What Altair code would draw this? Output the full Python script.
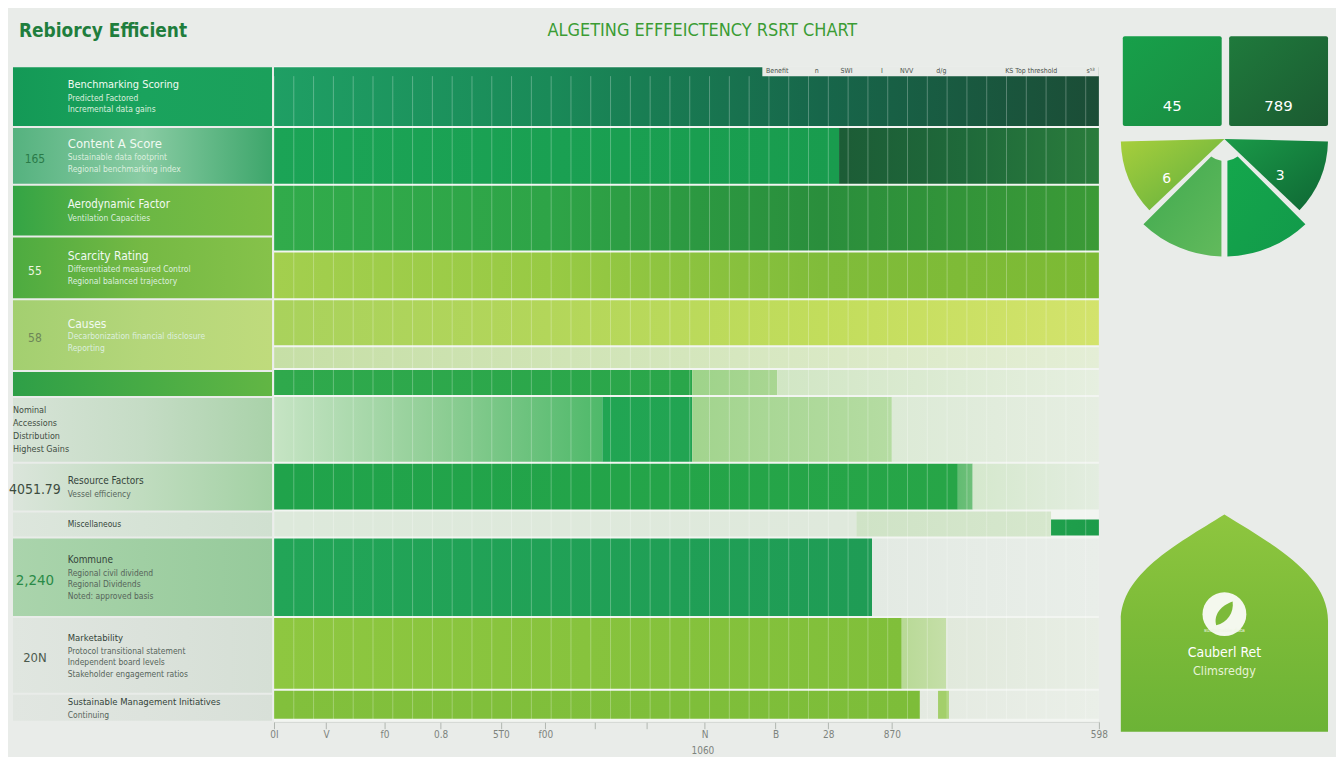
import json
import math
import altair as alt
import pandas as pd

# ======================= DATA =======================
title_left = "Rebiorcy Efficient"
title_main = "ALGETING EFFFEICTENCY RSRT CHART"

# main horizontal bands (thickness of each band, top -> bottom)
bar_row_heights = [61, 58, 67, 48, 47, 23, 27, 67, 48, 27, 80, 73, 30]

# bar segments: band index, start value, end value
seg_row  = [0, 1, 1, 2, 3, 4, 5, 6, 6, 6, 7, 7, 7, 7, 8, 8, 8, 9, 9, 9, 10, 10, 11, 11, 11, 12, 12, 12]
seg_from = [0, 0, 685, 0, 0, 0, 0, 0, 507, 610, 0, 398, 507, 749, 0, 829, 847, 0, 706, 942, 0, 725, 0, 761, 815, 0, 783, 805]
seg_to   = [1000, 685, 1000, 1000, 1000, 1000, 1000, 507, 610, 1000, 398, 507, 749, 1000, 829, 847, 1000, 706, 942, 1000, 725, 1000, 761, 815, 1000, 783, 1000, 818]

# small header strip in the first band
strip_from, strip_to, strip_depth = 592, 1000, 10
strip_labels = ["Benefit", "n", "SWI", "I", "NVV", "d/g", "KS Top threshold", "s⁵³"]
strip_label_at = [610, 658, 694, 737, 767, 809, 918, 990]

# x axis
axis_ticks = [0, 63, 134, 202, 275, 329, 389, 452, 522, 608, 672, 749, 1000]
axis_labels = ["0I", "V", "f0", "0.8", "5T0", "f00", "", "", "N", "B", "28", "870", "598"]
axis_title = "1060"

# left label panel
left_row_heights = [61, 58, 52, 63, 72, 26, 66, 49, 26, 80, 77, 28]
left_numbers = ["", "165", "", "55", "58", "", "", "4051.79", "", "2,240", "20N", ""]
left_titles = ["Benchmarking Scoring", "Content A Score", "Aerodynamic Factor", "Scarcity Rating",
               "Causes", "", "", "Resource Factors", "Miscellaneous", "Kommune",
               "Marketability", "Sustainable Management Initiatives"]
left_subs = [
    ["Predicted Factored", "Incremental data gains"],
    ["Sustainable data footprint", "Regional benchmarking index"],
    ["Ventilation Capacities"],
    ["Differentiated measured Control", "Regional balanced trajectory"],
    ["Decarbonization financial disclosure", "Reporting"],
    [],
    [],
    ["Vessel efficiency"],
    [],
    ["Regional civil dividend", "Regional Dividends", "Noted: approved basis"],
    ["Protocol transitional statement", "Independent board levels", "Stakeholder engagement ratios"],
    ["Continuing"],
]
left_notes_row = 6
left_notes = ["Nominal", "Accessions", "Distribution", "Highest Gains"]

# right emblem
tile_keys = ["L", "R"]
tile_values = ["45", "789"]
wedge_values = ["6", "3"]
arch_lines = ["Cauberl Ret", "Climsredgy"]
arch_small = "sustainable        data"

# ======================= STYLE =======================
FONT = "Liberation Sans Narrow, DejaVu Sans Condensed, Liberation Sans, sans-serif"

SEG_COLORS = [
    ["#1f9f64", "#1a8a58", "#17664a", "#1b4d36"],
    ["#1ba456", "#199c4e"],
    ["#1c5c36", "#1f6a3a", "#2a7c3c"],
    ["#31ab4b", "#2ea447", "#2a8e3c", "#3b9a36"],
    ["#a3cf4e", "#98ca44", "#80bc3a", "#7cba34"],
    ["#a9d25c", "#b3d65a", "#c2dd5c", "#d3e36c"],
    ["#c6dfa6", "#d4e6bc", "#e4eed6"],
    ["#2fa94c", "#2aa64a"],
    ["#9ed38a", "#a9d692"],
    ["#d1e6c4", "#e6efe0"],
    ["#c6e4c4", "#8fce95", "#4fb96a"],
    ["#21a553", "#22a452"],
    ["#a2d48e", "#b5dca2"],
    ["#dcead6", "#e6eee2"],
    ["#20a34b", "#27a547"],
    ["#62bc72", "#6fc07a"],
    ["#d5e8cd", "#e3ede0"],
    ["#dde9db", "#dfe9dc"],
    ["#cfe3c6", "#d6e7cd"],
    ["#1fa04c", "#1d9c4a"],
    ["#22a557", "#1f9c55"],
    ["#e3eae3", "#e9eee9"],
    ["#8ec740", "#80bf3a"],
    ["#b8d996", "#c5dfa8"],
    ["#e1e9dc", "#e8eee5"],
    ["#82c03c", "#7dbd39"],
    ["#e4eae1", "#eaefe8"],
    ["#a3cf6a", "#a3cf6a"],
]
SEG_INSET = {19: (9, 2)}

LEFT_COLORS = [
    ["#149956", "#1aa35d", "#1ba05b"],
    ["#55b27f", "#8acca4", "#3da66b"],
    ["#34a445", "#6bb744", "#7bbd43"],
    ["#4dab40", "#75b944", "#86c24a"],
    ["#a3cf70", "#b4d67a", "#bfdb7c"],
    ["#2e9f47", "#47ab45", "#62b644"],
    ["#d7e3d7", "#c5dcc5", "#a9d2a9"],
    ["#dbe5db", "#c0dcbf", "#a2d1a3"],
    ["#dde6dd", "#d6e3d6", "#d0e0d0"],
    ["#aad4ac", "#a0cfa3", "#96ca9b"],
    ["#e0e6e0", "#dbe2db", "#d5dfd5"],
    ["#e1e6e1", "#dde3dd", "#d8e0d8"],
]
TITLE_SIZE = [11, 13, 11.5, 12, 12, 0, 0, 10, 8.5, 10, 9.5, 9.5]
NUM_STYLE = {1: ("#2a7a48", 12), 3: ("#eef6e0", 12), 4: ("#6d8658", 12),
             7: ("#3d4c40", 14), 9: ("#2a8a47", 15), 10: ("#4c5a4e", 13)}


def grad(stops, direction="h"):
    n = len(stops)
    gs = [alt.GradientStop(color=c, offset=(k / (n - 1) if n > 1 else 0)) for k, c in enumerate(stops)]
    if direction == "v":
        return alt.LinearGradient(gradient="linear", stops=gs, x1=0, x2=0, y1=0, y2=1)
    if direction == "d":
        return alt.LinearGradient(gradient="linear", stops=gs, x1=0, x2=1, y1=0, y2=1)
    return alt.LinearGradient(gradient="linear", stops=gs, x1=0, x2=1, y1=0, y2=0)


def tops_of(heights):
    out, t = [], 0
    for h in heights:
        out.append(t)
        t += h
    return out


# ======================= SCALES =======================
Y_DOMAIN = sum(bar_row_heights) + 2
X_SCALE = alt.Scale(domain=[0, 1000], range=[262, 1090], nice=False, zero=False)
Y_SCALE = alt.Scale(domain=[0, Y_DOMAIN], range=[57, 57 + Y_DOMAIN], nice=False, zero=False)

label_expr = " : ".join(f"datum.value == {v} ? {json.dumps(l)}" for v, l in zip(axis_ticks, axis_labels)) + ' : ""'
X_AXIS = alt.Axis(values=axis_ticks, labelExpr=label_expr, grid=False, offset=-30,
                  domainColor="#cfd3cf", tickColor="#b0b6b0", tickSize=7,
                  labelColor="#7d837d", labelFont=FONT, labelFontSize=10, labelPadding=1,
                  labelOverlap=False, labelFlush=False,
                  title=axis_title, titleFont=FONT, titleFontSize=10, titleFontWeight="normal",
                  titleColor="#7d837d", titleX=692, titleY=29, titleAlign="center",
                  titleBaseline="middle")


def xq(field):
    return alt.X(field, type="quantitative", scale=X_SCALE, axis=X_AXIS)


def yq(field):
    return alt.Y(field, type="quantitative", scale=Y_SCALE, axis=None)


# ======================= MAIN BARS =======================
bar_tops = tops_of(bar_row_heights)
seg_y0, seg_y1 = [], []
for k, r in enumerate(seg_row):
    a, b = SEG_INSET.get(k, (1, 1))
    seg_y0.append(bar_tops[r] + a)
    seg_y1.append(bar_tops[r] + bar_row_heights[r] - b)
seg_df = pd.DataFrame({"i": list(range(len(seg_row))), "x0": seg_from, "x1": seg_to,
                       "y0": seg_y0, "y1": seg_y1})

bg_df = pd.DataFrame({"x0": [0], "x1": [1000], "y0": [0], "y1": [Y_DOMAIN]})
layers = [
    alt.Chart(bg_df).mark_rect(color="#f2f5f1").encode(
        x=xq("x0"), x2=alt.X2("x1"), y=yq("y0"), y2=alt.Y2("y1"))
]
for k in range(len(seg_row)):
    layers.append(
        alt.Chart(seg_df).transform_filter(alt.datum.i == k)
        .mark_rect(color=grad(SEG_COLORS[k]))
        .encode(x=xq("x0"), x2=alt.X2("x1"), y=yq("y0"), y2=alt.Y2("y1"))
    )

strip_df = pd.DataFrame({"x0": [strip_from], "x1": [strip_to], "y0": [0], "y1": [strip_depth]})
layers.append(alt.Chart(strip_df).mark_rect(color="#e8ebe8").encode(
    x=xq("x0"), x2=alt.X2("x1"), y=yq("y0"), y2=alt.Y2("y1")))

grid_df = pd.DataFrame({"g": list(range(0, 1000, 24))})
layers.append(alt.Chart(grid_df).mark_rule(color="#ffffff", opacity=0.28, strokeWidth=1).encode(
    x=xq("g"), y=alt.value(57 + strip_depth), y2=alt.value(57 + Y_DOMAIN - 2)))

strip_lab_df = pd.DataFrame({"t": strip_labels, "x": strip_label_at, "y": [strip_depth / 2] * len(strip_labels)})
layers.append(alt.Chart(strip_lab_df).mark_text(font=FONT, fontSize=7, color="#4b544d", align="center",
                                                baseline="middle").encode(
    x=xq("x"), y=yq("y"), text="t:N"))

# ======================= LEFT PANEL =======================
left_tops = tops_of(left_row_heights)
left_df = pd.DataFrame({"i": list(range(len(left_row_heights))),
                        "y0": [t + 1 for t in left_tops],
                        "y1": [t + h - 1 for t, h in zip(left_tops, left_row_heights)]})
for k in range(len(left_row_heights)):
    layers.append(
        alt.Chart(left_df).transform_filter(alt.datum.i == k)
        .mark_rect(color=grad(LEFT_COLORS[k]))
        .encode(x=alt.value(0), x2=alt.value(260), y=yq("y0"), y2=alt.Y2("y1"))
    )

text_rows = []
LH = {"title": 14.0, "sub": 11.5}
for r in range(len(left_row_heights)):
    top, h = left_tops[r], left_row_heights[r]
    light = r <= 5
    lines = []
    if left_titles[r]:
        lines.append(("title", left_titles[r]))
    for s in left_subs[r]:
        lines.append(("sub", s))
    block = sum(LH[kd] for kd, _ in lines)
    y = top + (h - block) / 2
    for kd, t in lines:
        if kd == "title":
            col = "#f1faf2" if light else "#34443a"
            size = TITLE_SIZE[r]
        else:
            col = "#dcefdf" if light else "#56645a"
            size = 8.5
        text_rows.append({"kind": kd, "text": t, "y": y + LH[kd] / 2, "color": col, "size": size})
        y += LH[kd]
    if left_numbers[r]:
        col, size = NUM_STYLE.get(r, ("#3d4c40", 12))
        text_rows.append({"kind": "num", "text": left_numbers[r], "y": top + h / 2 + 3,
                          "color": col, "size": size})
    if r == left_notes_row:
        n = len(left_notes)
        y = top + (h - n * 13) / 2
        for t in left_notes:
            text_rows.append({"kind": "note", "text": t, "y": y + 6.5, "color": "#3f4d42", "size": 9})
            y += 13
text_df = pd.DataFrame(text_rows)

for kd, xpx, align in [("title", 55, "left"), ("sub", 55, "left"), ("num", 22, "center"), ("note", 0, "left")]:
    layers.append(
        alt.Chart(text_df).transform_filter(alt.datum.kind == kd)
        .mark_text(font=FONT, align=align, baseline="middle")
        .encode(x=alt.value(xpx), y=yq("y"), text="text:N",
                color=alt.Color("color:N", scale=None),
                size=alt.Size("size:Q", scale=None))
    )

# ======================= HEADER =======================
layers.append(alt.Chart(pd.DataFrame({"t": [title_left]})).mark_text(
    font=FONT, fontSize=19, fontWeight="bold", color="#1f7e3d", align="left", baseline="middle"
).encode(x=alt.value(6), y=alt.value(22), text="t:N"))
layers.append(alt.Chart(pd.DataFrame({"t": [title_main]})).mark_text(
    font=FONT, fontSize=18, color="#3b9c34", align="center", baseline="middle"
).encode(x=alt.value(692), y=alt.value(22), text="t:N"))

main = alt.layer(*layers)

# ======================= RIGHT EMBLEM =======================
TILE_X = alt.Scale(domain=tile_keys, range=[1114, 1320], paddingInner=0.07, paddingOuter=0)
tile_df = pd.DataFrame({"col": tile_keys, "val": tile_values})
TILE_COLORS = [["#17a04a", "#1a8c42"], ["#1f7a3c", "#1b5a31"]]
right = []
for k, key in enumerate(tile_keys):
    right.append(
        alt.Chart(tile_df).transform_filter(alt.datum.col == key)
        .mark_rect(cornerRadius=2, color=grad(TILE_COLORS[k], "d"))
        .encode(x=alt.X("col:N", scale=TILE_X, axis=None), y=alt.value(27), y2=alt.value(117))
    )
right.append(alt.Chart(tile_df).mark_text(font="DejaVu Sans", fontSize=15, color="#ffffff",
                                          baseline="middle").encode(
    x=alt.X("col:N", scale=TILE_X, axis=None, bandPosition=0.5), y=alt.value(97), text="val:N"))

CX, CY = 1216, 130
wedges = [
    (math.pi / 2, 3 * math.pi / 4, 104, 0, ["#1a9a48", "#0f6634"]),
    (3 * math.pi / 4, math.pi, 118, 22, ["#14a74c", "#12994a"]),
    (math.pi, 5 * math.pi / 4, 118, 22, ["#3fa94f", "#62ba5c"]),
    (5 * math.pi / 4, 3 * math.pi / 2, 104, 0, ["#a8cf3c", "#5dae3e"]),
]
one = pd.DataFrame({"a": [0]})
for t0, t1, rad, rad2, cols in wedges:
    right.append(alt.Chart(one).mark_arc(theta=t0, theta2=t1, radius=rad, radius2=rad2, padAngle=0.05,
                                         color=grad(cols, "d")).encode(
        x=alt.value(CX), y=alt.value(CY)))
wedge_df = pd.DataFrame({"val": wedge_values, "side": ["L", "R"]})
for side, xpx, ypx in [("L", 1158, 170), ("R", 1272, 167)]:
    right.append(alt.Chart(wedge_df).transform_filter(alt.datum.side == side)
                 .mark_text(font="DejaVu Sans", fontSize=14, color="#ffffff", baseline="middle")
                 .encode(x=alt.value(xpx), y=alt.value(ypx), text="val:N"))

ARCH = ("M -0.954 1 L -0.954 -0.02 C -0.954 -0.45 -0.45 -0.72 0 -1 "
        "C 0.45 -0.72 0.954 -0.45 0.954 -0.02 L 0.954 1 Z")
right.append(alt.Chart(one).mark_point(shape=ARCH, size=218 * 218, filled=True, opacity=1,
                                       strokeWidth=0,
                                       fill=grad(["#8ec63f", "#7cbb38", "#6cb336"], "v")).encode(
    x=alt.value(1216), y=alt.value(616)))
right.append(alt.Chart(one).mark_point(shape="circle", size=44 * 44, filled=True, opacity=1,
                                       color="#f4f8ee").encode(x=alt.value(1216), y=alt.value(607)))
LEAF = "M -0.55 0.75 C -0.75 0.0 -0.2 -0.6 0.55 -0.85 C 0.65 -0.1 0.2 0.55 -0.55 0.75 Z"
right.append(alt.Chart(one).mark_point(shape=LEAF, size=30 * 30, filled=True, opacity=1,
                                       color="#7cba3a").encode(x=alt.value(1216), y=alt.value(607)))
arch_df = pd.DataFrame({"t": [arch_small] + arch_lines, "k": [0, 1, 2]})
for k, ypx, fs, col in [(0, 623, 5.5, "#eef6e4"), (1, 646, 14, "#ffffff"), (2, 664, 12.5, "#e6f2d6")]:
    right.append(alt.Chart(arch_df).transform_filter(alt.datum.k == k)
                 .mark_text(font="DejaVu Sans Condensed, DejaVu Sans", fontSize=fs, color=col,
                            align="center", baseline="middle")
                 .encode(x=alt.value(1216), y=alt.value(ypx), text="t:N"))

right_group = alt.layer(*right)

chart = (
    alt.layer(main, right_group)
    .resolve_scale(x="independent", y="independent")
    .properties(width=1328, height=745, padding=0, background="#e9ece9")
    .configure_view(stroke=None)
)

chart.save("out.html", embed_options={"renderer": "svg", "actions": False})
